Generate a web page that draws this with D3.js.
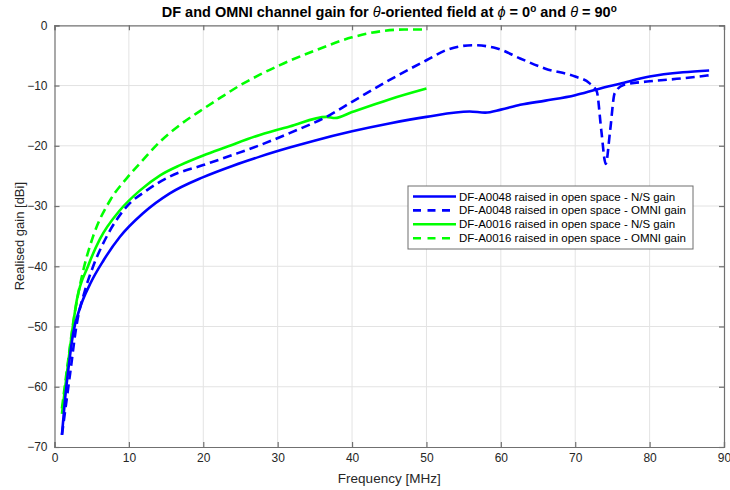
<!DOCTYPE html>
<html>
<head>
<meta charset="utf-8">
<script src="https://cdn.jsdelivr.net/npm/d3@7"></script>
<style>
  body { margin: 0; background: #fff; }
  text { font-family: "Liberation Sans", Arial, sans-serif; }
</style>
</head>
<body>
<div id="chart"></div>
<script>
// series: DF-A0048 N/S gain
const a48NsFreq = [1, 1.4, 1.9, 2.5, 3.4, 4.8, 6.6, 8.8, 11.9, 15.5, 20, 24, 27.6, 31.6, 34.8, 40, 45, 50, 55.8, 57.9, 60, 62.6, 66, 70, 73, 76, 80, 84.5, 88];
const a48NsGain = [-68, -62.3, -56.7, -51.2, -47.0, -42.9, -39.0, -35.1, -31.2, -27.9, -25.2, -23.3, -21.8, -20.3, -19.2, -17.6, -16.3, -15.2, -14.3, -14.5, -14.0, -13.2, -12.5, -11.6, -10.6, -9.7, -8.5, -7.8, -7.5];
// DF-A0048 OMNI gain
const a48OmniFreq = [1, 2.1, 3, 4.1, 5.2, 7, 9.7, 12.4, 15.5, 20, 24, 27.6, 31.6, 37, 40, 45, 50, 52.7, 56.3, 59.4, 62.6, 66, 70, 71.9, 72.9, 73.5, 74.1, 74.7, 75.3, 76.5, 80, 84.5, 88];
const a48OmniGain = [-68, -57.8, -49.5, -44, -40, -35.1, -30.1, -27.4, -25.1, -23.2, -21.5, -19.9, -17.9, -14.9, -12.7, -9.1, -5.8, -4.1, -3.3, -3.8, -5.5, -7.2, -8.5, -9.6, -11, -17.4, -23, -17.4, -11.3, -9.9, -9.3, -8.8, -8.3];
// DF-A0016 N/S gain
const a16NsFreq = [1, 2.1, 3, 4.5, 6.1, 8.8, 11.5, 14.2, 16.9, 20, 23.1, 27.6, 31.6, 36.6, 37.7, 40, 45, 50];
const a16NsGain = [-64.5, -53.4, -45.6, -40, -35.5, -30.7, -27.4, -24.9, -23.2, -21.6, -20.2, -18.2, -16.8, -15.2, -15.4, -14.4, -12.3, -10.5];
// DF-A0016 OMNI gain
const a16OmniFreq = [1, 1.9, 2.5, 3.2, 3.9, 5.2, 7.5, 9.7, 11.5, 14.2, 16.9, 19.6, 22.2, 24.9, 27.6, 30.3, 34.8, 40, 43.8, 47, 50];
const a16OmniGain = [-63.6, -55, -49.5, -44.5, -40.5, -35, -29, -25.4, -22.9, -19.3, -16.5, -14.2, -12.1, -10.0, -8.2, -6.6, -4.3, -2.0, -1.0, -0.7, -0.7];

const seriesNames = [
  "DF-A0048 raised in open space - N/S gain",
  "DF-A0048 raised in open space - OMNI gain",
  "DF-A0016 raised in open space - N/S gain",
  "DF-A0016 raised in open space - OMNI gain"
];
const seriesColors = ["#0000ff", "#0000ff", "#00ff00", "#00ff00"];
const seriesDashed = [false, true, false, true];

const xTicks = [0, 10, 20, 30, 40, 50, 60, 70, 80, 90];
const yTicks = [0, -10, -20, -30, -40, -50, -60, -70];

const width = 730, height = 490;
const margin = { top: 25.3, right: 6, bottom: 43, left: 54.5 };
const plotW = width - margin.left - margin.right;
const plotH = height - margin.top - margin.bottom;

const svg = d3.select("#chart").append("svg")
  .attr("width", width)
  .attr("height", height);

const x = d3.scaleLinear().domain([0, 90]).range([0, plotW]);
const y = d3.scaleLinear().domain([-70, 0]).range([plotH, 0]);

const g = svg.append("g").attr("transform", `translate(${margin.left},${margin.top})`);

// grid
g.append("g").selectAll("line").data(xTicks.slice(1, -1)).join("line")
  .attr("x1", d => x(d)).attr("x2", d => x(d))
  .attr("y1", 0).attr("y2", plotH)
  .attr("stroke", "#e3e3e3").attr("stroke-width", 1);
g.append("g").selectAll("line").data(yTicks.slice(1, -1)).join("line")
  .attr("y1", d => y(d)).attr("y2", d => y(d))
  .attr("x1", 0).attr("x2", plotW)
  .attr("stroke", "#e3e3e3").attr("stroke-width", 1);

// lines
const line = d3.line()
  .x(d => x(d[0]))
  .y(d => y(d[1]))
  .curve(d3.curveMonotoneX);

const seriesData = [
  d3.zip(a48NsFreq, a48NsGain),
  d3.zip(a48OmniFreq, a48OmniGain),
  d3.zip(a16NsFreq, a16NsGain),
  d3.zip(a16OmniFreq, a16OmniGain)
];

const plot = g.append("g");
// green under blue, as in the reference
[2, 3, 0, 1].forEach(i => {
  plot.append("path")
    .datum(seriesData[i])
    .attr("d", line)
    .attr("fill", "none")
    .attr("stroke", seriesColors[i])
    .attr("stroke-width", 2.6)
    .attr("stroke-dasharray", seriesDashed[i] ? "9,5" : null);
});

// axes (box with inward ticks)
const axisColor = "#707070";
const xAxis = g.append("g").attr("transform", `translate(0,${plotH})`)
  .call(d3.axisBottom(x).tickValues(xTicks).tickSize(-5).tickPadding(9));
const xTop = g.append("g")
  .call(d3.axisTop(x).tickValues(xTicks).tickSize(-5).tickFormat(""));
const yAxis = g.append("g")
  .call(d3.axisLeft(y).tickValues(yTicks).tickSize(-5).tickPadding(9));
const yRight = g.append("g").attr("transform", `translate(${plotW},0)`)
  .call(d3.axisRight(y).tickValues(yTicks).tickSize(-5).tickFormat(""));

[xAxis, xTop, yAxis, yRight].forEach(a => {
  a.select(".domain").attr("stroke", axisColor).attr("stroke-width", 1.2);
  a.selectAll(".tick line").attr("stroke", axisColor).attr("stroke-width", 1.2);
  a.selectAll(".tick text")
    .attr("fill", "#262626")
    .style("font-family", "'Liberation Sans', Arial, sans-serif")
    .style("font-size", "12px");
});
xAxis.selectAll(".tick text").attr("dy", "0.5em");
yAxis.selectAll(".tick text").attr("dx", "2");

// axis labels
svg.append("text")
  .attr("x", margin.left + plotW / 2)
  .attr("y", 483)
  .attr("text-anchor", "middle")
  .attr("fill", "#262626")
  .style("font-size", "13.5px")
  .text("Frequency [MHz]");

svg.append("text")
  .attr("transform", `translate(24,${margin.top + plotH / 2}) rotate(-90)`)
  .attr("text-anchor", "middle")
  .attr("fill", "#262626")
  .style("font-size", "13px")
  .text("Realised gain [dBi]");

// title
const title = svg.append("text")
  .attr("x", margin.left + plotW / 2)
  .attr("y", 17)
  .attr("text-anchor", "middle")
  .attr("fill", "#000")
  .style("font-size", "14.5px")
  .style("font-weight", "bold");
title.append("tspan").text("DF and OMNI channel gain for ");
title.append("tspan").style("font-style", "italic").style("font-weight", "normal").text("θ");
title.append("tspan").text("-oriented field at ");
title.append("tspan").style("font-style", "italic").style("font-weight", "normal").text("ϕ");
title.append("tspan").text(" = 0");
title.append("tspan").attr("dy", -5).style("font-size", "10px").text("o");
title.append("tspan").attr("dy", 5).text(" and ");
title.append("tspan").style("font-style", "italic").style("font-weight", "normal").text("θ");
title.append("tspan").text(" = 90");
title.append("tspan").attr("dy", -5).style("font-size", "10px").text("o");

// legend
const legend = svg.append("g").attr("transform", "translate(408,186)");
legend.append("rect")
  .attr("width", 285).attr("height", 63)
  .attr("fill", "#fff")
  .attr("stroke", "#6e6e6e").attr("stroke-width", 1);
seriesNames.forEach((name, i) => {
  const row = legend.append("g").attr("transform", `translate(0,${10.5 + i * 13.9})`);
  row.append("line")
    .attr("x1", 5).attr("x2", 48)
    .attr("stroke", seriesColors[i])
    .attr("stroke-width", 2.6)
    .attr("stroke-dasharray", seriesDashed[i] ? "8,6.5" : null);
  row.append("text")
    .attr("x", 51).attr("y", 4)
    .attr("fill", "#000")
    .style("font-size", "11.5px")
    .text(name);
});
</script>
</body>
</html>
